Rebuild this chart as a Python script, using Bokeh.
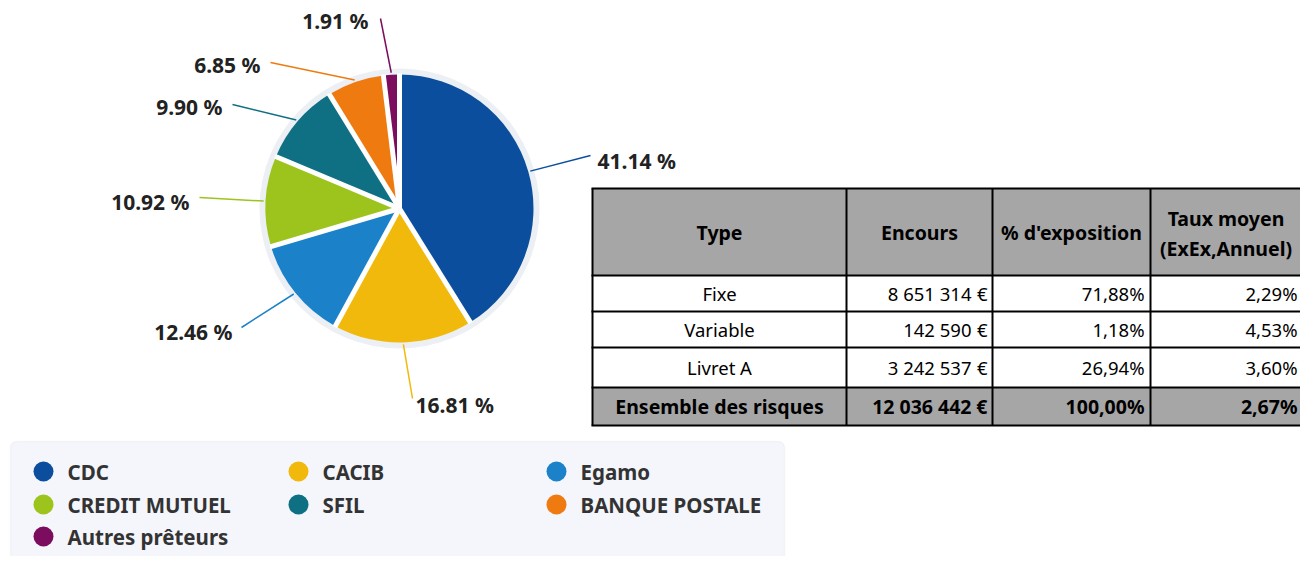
import numpy as np
from bokeh.plotting import figure
from bokeh.models import Range1d, BoxAnnotation
from bokeh.core.properties import value
from bokeh.embed import file_html
from bokeh.resources import INLINE

# ---------------- data ----------------
lenders = ["CDC", "CACIB", "Egamo", "CREDIT MUTUEL", "SFIL", "BANQUE POSTALE", "Autres prêteurs"]
shares = [41.14, 16.81, 12.46, 10.92, 9.90, 6.85, 1.91]
colors = ["#0b4e9d", "#f0b90b", "#1b82c9", "#9dc41d", "#0f7083", "#ef7b10", "#7b0c5e"]

table_header = ["Type", "Encours", "% d'exposition", "Taux moyen", "(ExEx,Annuel)"]
types = ["Fixe", "Variable", "Livret A", "Ensemble des risques"]
encours = ["8 651 314", "142 590", "3 242 537", "12 036 442"]
exposition = ["71,88%", "1,18%", "26,94%", "100,00%"]
taux = ["2,29%", "4,53%", "3,60%", "2,67%"]

# ---------------- layout ----------------
W, H = 1300, 556
def Y(y):  # image pixel row -> data y
    return H - y

p = figure(width=W, height=H, x_range=Range1d(0, W), y_range=Range1d(0, H),
           output_backend="svg", toolbar_location=None, x_axis_type=None, y_axis_type=None,
           min_border=0, outline_line_color=None, background_fill_color="white")
p.grid.visible = False

FONT = "Noto Sans"

# pie
cx, cy, R = 399, Y(208), 134
frac = np.cumsum([0] + shares) / 100.0
start = np.pi / 2 - frac[1:] * 2 * np.pi
end = np.pi / 2 - frac[:-1] * 2 * np.pi
mid = (start + end) / 2

p.circle(x=cx, y=cy, radius=R + 6, fill_color="#eceff4", line_color=None)
p.wedge(x=cx, y=cy, radius=R, start_angle=list(start), end_angle=list(end),
        fill_color=colors, line_color=None)
bounds = np.pi / 2 - frac[:-1] * 2 * np.pi
p.segment(x0=[cx] * len(bounds), y0=[cy] * len(bounds),
          x1=list(cx + (R + 1) * np.cos(bounds)), y1=list(cy + (R + 1) * np.sin(bounds)),
          line_color="white", line_width=5)

# connectors and labels
conn_end = [(590, 155), (412, 398), (241, 327), (199, 197), (232, 104), (270, 62), (380, 18)]
lab_pos = [(597, 160, "left"), (415, 404, "left"), (232, 331, "right"), (189, 201, "right"),
           (222, 106, "right"), (260, 64, "right"), (368, 20, "right")]
x0 = cx + (R + 2) * np.cos(mid)
y0 = cy + (R + 2) * np.sin(mid)
p.segment(x0=list(x0), y0=list(y0), x1=[e[0] for e in conn_end], y1=[Y(e[1]) for e in conn_end],
          line_color=colors, line_width=1.5)
for s, (lx, ly, al) in zip(shares, lab_pos):
    p.text(x=[lx], y=[Y(ly)], text=["%.2f %%" % s], text_align=al, text_baseline="middle",
           text_font=value(FONT), text_font_style="bold", text_font_size="21px", text_color="#222222")

# table
col_edges = [592, 846, 992, 1150, 1301]
row_edges = [188, 275, 311, 347, 387, 425]
grey = "#a6a6a6"
fills = [grey, "white", "white", "white", grey]
p.quad(left=[col_edges[0]] * 5, right=[col_edges[-1]] * 5,
       top=[Y(row_edges[i]) for i in range(5)], bottom=[Y(row_edges[i + 1]) for i in range(5)],
       fill_color=fills, line_color=None)
p.segment(x0=[col_edges[0] - 1] * len(row_edges), x1=[col_edges[-1] + 1] * len(row_edges),
          y0=[Y(r) for r in row_edges], y1=[Y(r) for r in row_edges], line_color="black", line_width=2)
p.segment(x0=col_edges, x1=col_edges, y0=[Y(row_edges[0])] * len(col_edges),
          y1=[Y(row_edges[-1])] * len(col_edges), line_color="black", line_width=2)

hy = (row_edges[0] + row_edges[1]) / 2
cc = [(col_edges[i] + col_edges[i + 1]) / 2 for i in range(4)]
hkw = dict(text_baseline="middle", text_font=value(FONT), text_font_style="bold",
           text_font_size="19.5px", text_color="black", text_align="center")
p.text(x=cc[:3], y=[Y(hy)] * 3, text=table_header[:3], **hkw)
p.text(x=[cc[3], cc[3]], y=[Y(hy - 14), Y(hy + 16)], text=table_header[3:], **hkw)
for i in range(4):
    ry = Y((row_edges[i + 1] + row_edges[i + 2]) / 2)
    st = "bold" if i == 3 else "normal"
    kw = dict(text_baseline="middle", text_font=value(FONT), text_font_style=st,
              text_font_size="19.5px" if i == 3 else "18.5px", text_color="black")
    p.text(x=[cc[0]], y=[ry], text=[types[i]], text_align="center", **kw)
    p.text(x=[col_edges[2] - 21], y=[ry], text=[encours[i]], text_align="right", **kw)
    p.text(x=[col_edges[2] - 5], y=[ry], text=["€"], text_align="right", **kw)
    p.text(x=[col_edges[3] - 6], y=[ry], text=[exposition[i]], text_align="right", **kw)
    p.text(x=[col_edges[4] - 4], y=[ry], text=[taux[i]], text_align="right", **kw)

# legend
p.add_layout(BoxAnnotation(left=10, right=784, top=Y(441), bottom=Y(590), border_radius=6,
                           fill_color="#f4f6fb", fill_alpha=1, line_color="#e0e3ea", line_width=1.5,
                           level="underlay"))
leg_cols = [43, 298, 556]
leg_rows = [471, 504, 536]
lx = [leg_cols[i % 3] for i in range(len(lenders))]
ly = [Y(leg_rows[i // 3]) for i in range(len(lenders))]
p.scatter(x=lx, y=ly, size=20, fill_color=colors, line_color=None)
p.text(x=[v + 24 for v in lx], y=ly, text=lenders, text_align="left", text_baseline="middle",
       text_font=value(FONT), text_font_style="bold", text_font_size="20.5px", text_color="#333333")

open("out.html", "w").write(file_html(p, INLINE))
